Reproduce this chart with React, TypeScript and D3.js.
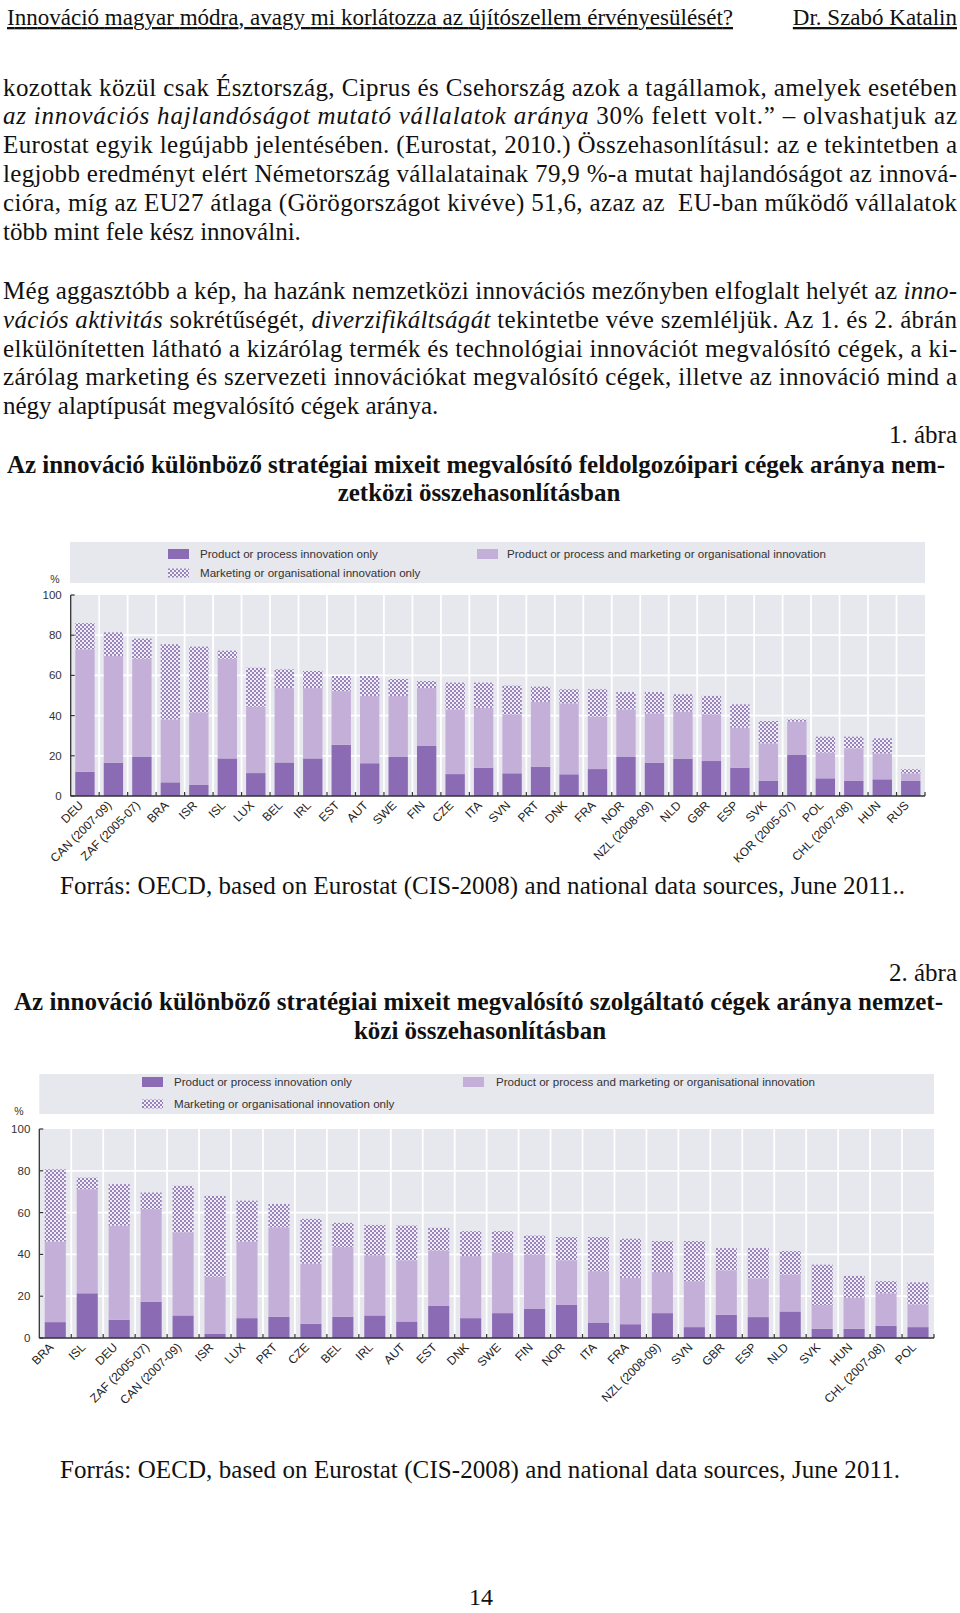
import React from "react";
import * as d3 from "d3";

// ---------- Chart 1 data (manufacturing) ----------
const cats1 = ["DEU","CAN (2007-09)","ZAF (2005-07)","BRA","ISR","ISL","LUX","BEL","IRL","EST","AUT","SWE","FIN","CZE","ITA","SVN","PRT","DNK","FRA","NOR","NZL (2008-09)","NLD","GBR","ESP","SVK","KOR (2005-07)","POL","CHL (2007-08)","HUN","RUS"];
const prod1 = [12.1,16.6,19.4,6.8,5.5,18.7,11.4,16.7,18.7,25.5,16.3,19.4,24.9,10.9,14.1,11.3,14.6,10.8,13.4,19.4,16.6,18.6,17.4,14.1,7.5,20.4,8.8,7.5,8.3,7.5];
const both1 = [60.9,53.1,48.9,31.3,36.1,49.6,33.0,37.0,35.0,26.7,33.5,30.4,28.8,32.2,29.8,29.3,32.3,35.3,26.1,23.7,24.5,23.4,23.2,19.9,18.7,16.6,12.8,16.2,12.9,3.8];
const mkt1 = [13.0,11.7,10.0,37.4,32.7,4.0,19.4,9.3,8.5,7.5,9.9,8.4,3.5,13.3,12.5,14.3,7.5,7.0,13.6,8.6,10.6,8.6,9.2,11.6,11.1,1.1,7.9,5.8,7.5,2.0];

// ---------- Chart 2 data (services) ----------
const cats2 = ["BRA","ISL","DEU","ZAF (2005-07)","CAN (2007-09)","ISR","LUX","PRT","CZE","BEL","IRL","AUT","EST","DNK","SWE","FIN","NOR","ITA","FRA","NZL (2008-09)","SVN","GBR","ESP","NLD","SVK","HUN","CHL (2007-08)","POL"];
const prod2 = [7.6,21.4,8.7,17.4,10.8,2.1,9.5,10.1,6.8,10.1,10.8,7.9,15.5,9.5,11.9,13.9,15.8,7.4,6.6,11.9,5.2,11.1,10.0,12.7,4.4,4.4,5.9,5.2];
const both2 = [38.6,49.8,45.1,44.3,39.8,27.2,36.7,42.9,28.8,33.4,28.8,29.3,26.4,29.7,28.9,26.0,21.4,24.6,22.2,19.7,22.0,21.3,18.5,17.7,11.4,14.9,15.5,10.9];
const mkt2 = [34.5,5.5,19.8,7.9,22.2,38.7,19.5,11.1,21.4,11.6,14.5,16.6,10.8,11.9,10.3,9.1,11.1,16.3,18.7,14.8,19.2,10.6,14.5,11.2,19.3,10.4,5.8,10.5];

const yTicks = [0, 20, 40, 60, 80, 100];
const legendLabels = [
  "Product or process innovation only",
  "Marketing or organisational innovation only",
  "Product or process and marketing or organisational innovation",
];

// ---------- Text ----------
type Seg = { t: string; i?: boolean };
const para1: Seg[][] = [
  [{ t: "kozottak közül csak Észtország, Ciprus és Csehország azok a tagállamok, amelyek esetében" }],
  [{ t: "az innovációs hajlandóságot mutató vállalatok aránya", i: true }, { t: " 30% felett volt.” – olvashatjuk az" }],
  [{ t: "Eurostat egyik legújabb jelentésében. (Eurostat, 2010.) Összehasonlításul: az e tekintetben a" }],
  [{ t: "legjobb eredményt elért Németország vállalatainak 79,9 %-a mutat hajlandóságot az innová-" }],
  [{ t: "cióra, míg az EU27 átlaga (Görögországot kivéve) 51,6, azaz az  EU-ban működő vállalatok" }],
  [{ t: "több mint fele kész innoválni." }],
];
const para2: Seg[][] = [
  [{ t: "Még aggasztóbb a kép, ha hazánk nemzetközi innovációs mezőnyben elfoglalt helyét az " }, { t: "inno-", i: true }],
  [{ t: "vációs aktivitás", i: true }, { t: " sokrétűségét, " }, { t: "diverzifikáltságát", i: true }, { t: " tekintetbe véve szemléljük. Az 1. és 2. ábrán" }],
  [{ t: "elkülönítetten látható a kizárólag termék és technológiai innovációt megvalósító cégek, a ki-" }],
  [{ t: "zárólag marketing és szervezeti innovációkat megvalósító cégek, illetve az innováció mind a" }],
  [{ t: "négy alaptípusát megvalósító cégek aránya." }],
];

const SERIF = "'Liberation Serif', 'Times New Roman', serif";
const SANS = "'Liberation Sans', Arial, sans-serif";
const DARK = "#8b6bb4";
const LIGHT = "#c4afd8";
const BG = "#e7e7ee";

function Line({ segs, x, y, w, justify, size = 25 }: { segs: Seg[]; x: number; y: number; w: number; justify: boolean; size?: number }) {
  return (
    <text x={x} y={y} fontFamily={SERIF} fontSize={size} fill="#111" xmlSpace="preserve"
      {...(justify ? { textLength: w, lengthAdjust: "spacing" } : {})}>
      {segs.map((s, k) => (
        <tspan key={k} fontStyle={s.i ? "italic" : "normal"}>{s.t}</tspan>
      ))}
    </text>
  );
}

type ChartProps = {
  cats: string[]; prod: number[]; both: number[]; mkt: number[];
  L: number; R: number; T: number; B: number; barFrac: number;
  legTop: number; legBot: number; legLeft: number;
  sw1: number; tx1: number; sw3: number; tx3: number; row1: number; row2: number;
  pctX: number; pctY: number;
};

function Chart(p: ChartProps) {
  const x = d3.scaleBand<string>().domain(p.cats).range([p.L, p.R]).padding(0);
  const y = d3.scaleLinear().domain([0, 100]).range([p.B, p.T]);
  const bw = x.bandwidth() * p.barFrac;
  const stackData = p.cats.map((c, i) => ({ c, prod: p.prod[i], both: p.both[i], mkt: p.mkt[i] }));
  const stack = d3.stack<any>().keys(["prod", "both", "mkt"])(stackData);
  const fills = [DARK, LIGHT, "url(#hatch)"];
  const bounds = p.cats.slice(1).map((c) => x(c) as number);
  return (
    <g>
      {/* legend */}
      <rect x={p.legLeft} y={p.legTop} width={p.R - p.legLeft} height={p.legBot - p.legTop} fill={BG} />
      <rect x={p.sw1} y={p.row1 - 5} width={21} height={10} fill={DARK} />
      <text x={p.tx1} y={p.row1} dy="0.35em" fontFamily={SANS} fontSize={11.6} fill="#333">{legendLabels[0]}</text>
      <rect x={p.sw1} y={p.row2 - 4.5} width={21} height={9} fill="url(#hatch)" />
      <text x={p.tx1} y={p.row2} dy="0.35em" fontFamily={SANS} fontSize={11.6} fill="#333">{legendLabels[1]}</text>
      <rect x={p.sw3} y={p.row1 - 5} width={21} height={10} fill={LIGHT} />
      <text x={p.tx3} y={p.row1} dy="0.35em" fontFamily={SANS} fontSize={11.6} fill="#333">{legendLabels[2]}</text>
      {/* plot background */}
      <rect x={p.L} y={p.T} width={p.R - p.L} height={p.B - p.T} fill={BG} />
      {yTicks.slice(1, -1).map((t) => (
        <line key={t} x1={p.L} x2={p.R} y1={y(t)} y2={y(t)} stroke="#fff" strokeWidth={1.8} />
      ))}
      {bounds.map((b, k) => (
        <line key={k} x1={b} x2={b} y1={p.T} y2={p.B} stroke="#fff" strokeWidth={1.8} />
      ))}
      {/* bars */}
      {stack.map((layer, li) => (
        <g key={li}>
          {layer.map((d, i) => (
            <rect key={i}
              x={(x(p.cats[i]) as number) + (x.bandwidth() - bw) / 2}
              y={y(d[1])} width={bw} height={Math.max(0, y(d[0]) - y(d[1]))}
              fill={fills[li]} />
          ))}
        </g>
      ))}
      {/* axes */}
      <line x1={p.L} x2={p.L} y1={p.T} y2={p.B} stroke="#333" strokeWidth={1.3} />
      <line x1={p.L} x2={p.R} y1={p.B} y2={p.B} stroke="#333" strokeWidth={1.3} />
      {yTicks.map((t) => (
        <g key={t}>
          <line x1={p.L} x2={p.L + 4} y1={y(t)} y2={y(t)} stroke="#333" strokeWidth={1.2} />
          <text x={p.L - 9} y={y(t)} dy="0.35em" textAnchor="end" fontFamily={SANS} fontSize={11.5} fill="#333">{t}</text>
        </g>
      ))}
      {[...bounds, p.R].map((b, k) => (
        <line key={k} x1={b} x2={b} y1={p.B} y2={p.B - 4} stroke="#333" strokeWidth={1.2} />
      ))}
      <text x={p.pctX} y={p.pctY} dy="0.35em" textAnchor="middle" fontFamily={SANS} fontSize={10.5} fill="#333">%</text>
      {p.cats.map((c) => {
        const cx = (x(c) as number) + x.bandwidth() / 2 - 1;
        const cy = p.B + 10;
        return (
          <text key={c} x={cx} y={cy} textAnchor="end" transform={`rotate(-45 ${cx} ${cy})`}
            fontFamily={SANS} fontSize={12} fill="#222">{c}</text>
        );
      })}
    </g>
  );
}

export default function App() {
  const W = 960, H = 1613;
  return (
    <svg width={W} height={H} viewBox={`0 0 ${W} ${H}`}
      style={{ position: "absolute", left: 0, top: 0, display: "block", background: "#fff" }}>
      <defs>
        <pattern id="hatch" width={4} height={4} patternUnits="userSpaceOnUse">
          <rect width={4} height={4} fill="#f1edf5" />
          <rect x={0} y={0} width={2} height={2} fill="#9883ba" />
          <rect x={2} y={2} width={2} height={2} fill="#9883ba" />
        </pattern>
      </defs>
      <rect width={W} height={H} fill="#fff" />

      {/* header */}
      <text x={7} y={25} fontFamily={SERIF} fontSize={23} fill="#111" textDecoration="underline"
        textLength={726} lengthAdjust="spacing">Innováció magyar módra, avagy mi korlátozza az újítószellem érvényesülését?</text>
      <text x={957} y={25} textAnchor="end" fontFamily={SERIF} fontSize={23} fill="#111" textDecoration="underline">Dr. Szabó Katalin</text>

      {para1.map((segs, i) => (
        <Line key={"a" + i} segs={segs} x={3} y={95.5 + i * 28.8} w={954} justify={i < para1.length - 1} />
      ))}
      {para2.map((segs, i) => (
        <Line key={"b" + i} segs={segs} x={3} y={299 + i * 28.8} w={954} justify={i < para2.length - 1} />
      ))}

      <text x={957} y={443} textAnchor="end" fontFamily={SERIF} fontSize={25} fill="#111">1. ábra</text>
      <text x={7} y={473} fontFamily={SERIF} fontSize={25} fontWeight="bold" fill="#111" textLength={938} lengthAdjust="spacing">Az innováció különböző stratégiai mixeit megvalósító feldolgozóipari cégek aránya nem-</text>
      <text x={479} y={501} textAnchor="middle" fontFamily={SERIF} fontSize={25} fontWeight="bold" fill="#111">zetközi összehasonlításban</text>

      <Chart cats={cats1} prod={prod1} both={both1} mkt={mkt1}
        L={70.7} R={925} T={595} B={796} barFrac={0.68}
        legTop={542} legBot={583} legLeft={70}
        sw1={168} tx1={200} sw3={477} tx3={507} row1={554} row2={573}
        pctX={55} pctY={579} />

      <text x={60} y={894} fontFamily={SERIF} fontSize={25} fill="#111" textLength={845} lengthAdjust="spacing">Forrás: OECD, based on Eurostat (CIS-2008) and national data sources, June 2011..</text>

      <text x={957} y={980.5} textAnchor="end" fontFamily={SERIF} fontSize={25} fill="#111">2. ábra</text>
      <text x={14} y={1010} fontFamily={SERIF} fontSize={25} fontWeight="bold" fill="#111" textLength={929} lengthAdjust="spacing">Az innováció különböző stratégiai mixeit megvalósító szolgáltató cégek aránya nemzet-</text>
      <text x={480} y={1039} textAnchor="middle" fontFamily={SERIF} fontSize={25} fontWeight="bold" fill="#111">közi összehasonlításban</text>

      <Chart cats={cats2} prod={prod2} both={both2} mkt={mkt2}
        L={39.3} R={934} T={1129} B={1338} barFrac={0.66}
        legTop={1074} legBot={1114} legLeft={39.3}
        sw1={142} tx1={174} sw3={463} tx3={496} row1={1082} row2={1104}
        pctX={19} pctY={1111} />

      <text x={60} y={1478} fontFamily={SERIF} fontSize={25} fill="#111" textLength={840} lengthAdjust="spacing">Forrás: OECD, based on Eurostat (CIS-2008) and national data sources, June 2011.</text>

      <text x={481} y={1605} textAnchor="middle" fontFamily={SERIF} fontSize={24} fill="#111">14</text>
    </svg>
  );
}
